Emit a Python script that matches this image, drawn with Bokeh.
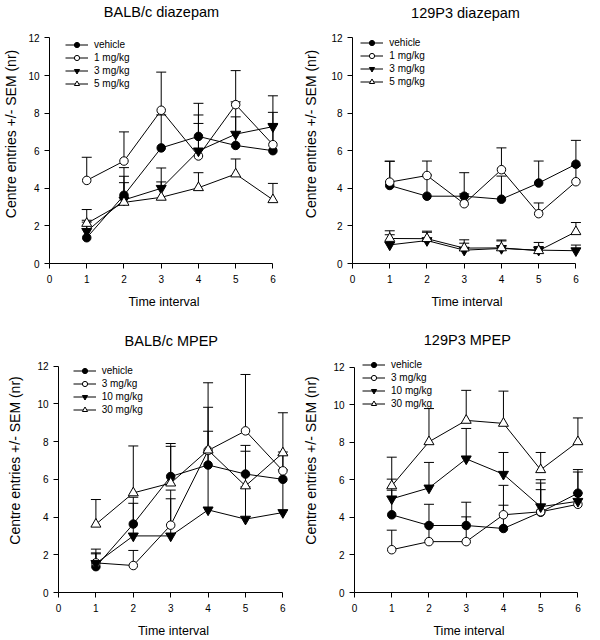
from bokeh.plotting import figure
from bokeh.models import (Legend, LegendItem, Whisker, ColumnDataSource, Range1d,
                          FixedTicker, TeeHead, Label)
from bokeh.layouts import column, row
from bokeh.embed import file_html
from bokeh.resources import INLINE

# ---------------- data ----------------
intervals = [1, 2, 3, 4, 5, 6]
x_ticks = [0, 1, 2, 3, 4, 5, 6]
y_ticks = [0, 2, 4, 6, 8, 10, 12]
x_label = "Time interval"
y_label = "Centre entries +/- SEM (nr)"

# BALB/c diazepam
balb_dz_title = "BALB/c diazepam"
balb_dz_labels = ["vehicle", "1 mg/kg", "3 mg/kg", "5 mg/kg"]
balb_dz_vehicle = [1.37, 3.63, 6.15, 6.76, 6.28, 6.0]
balb_dz_vehicle_top = [2.3, 5.1, 7.9, 8.52, 7.8, 7.45]
balb_dz_d1 = [4.42, 5.45, 8.15, 5.72, 8.45, 6.32]
balb_dz_d1_top = [5.65, 7.0, 10.18, 7.9, 10.26, 8.04]
balb_dz_d3 = [1.71, 3.38, 4.0, 5.99, 6.88, 7.28]
balb_dz_d3_top = [2.2, 4.64, 5.08, 7.45, 8.6, 8.92]
balb_dz_d5 = [2.13, 3.25, 3.52, 4.03, 4.76, 3.39]
balb_dz_d5_top = [2.87, 4.3, 4.34, 4.83, 5.56, 4.26]

# 129P3 diazepam
p129_dz_title = "129P3 diazepam"
p129_dz_labels = ["vehicle", "1 mg/kg", "3 mg/kg", "5 mg/kg"]
p129_dz_vehicle = [4.15, 3.58, 3.58, 3.42, 4.28, 5.28]
p129_dz_vehicle_top = [5.44, 4.7, 4.83, 4.65, 5.45, 6.55]
p129_dz_d1 = [4.33, 4.68, 3.18, 4.99, 2.65, 4.35]
p129_dz_d1_top = [5.44, 5.45, 3.7, 6.15, 3.22, 5.2]
p129_dz_d3 = [0.99, 1.22, 0.71, 0.8, 0.71, 0.68]
p129_dz_d3_top = [1.53, 1.66, 1.08, 1.2, 0.9, 0.98]
p129_dz_d5 = [1.33, 1.32, 0.82, 0.83, 0.68, 1.69]
p129_dz_d5_top = [1.74, 1.72, 1.26, 1.25, 1.12, 2.18]

# BALB/c MPEP
balb_mp_title = "BALB/c MPEP"
balb_mp_labels = ["vehicle", "3 mg/kg", "10 mg/kg", "30 mg/kg"]
balb_mp_vehicle = [1.37, 3.63, 6.15, 6.76, 6.28, 6.0]
balb_mp_vehicle_top = [2.3, 5.05, 7.9, 8.55, 7.8, 7.45]
balb_mp_d3 = [1.57, 1.43, 3.57, 7.53, 8.57, 6.45]
balb_mp_d3_top = [2.1, 2.23, 5.43, 9.82, 11.56, 7.3]
balb_mp_d10 = [1.54, 3.0, 3.0, 4.38, 3.89, 4.24]
balb_mp_d10_top = [2.05, 4.73, 4.97, 7.4, 5.6, 6.5]
balb_mp_d30 = [3.62, 5.28, 5.8, 7.55, 5.65, 7.4]
balb_mp_d30_top = [4.93, 7.77, 7.75, 11.12, 7.49, 9.53]

# 129P3 MPEP
p129_mp_title = "129P3 MPEP"
p129_mp_labels = ["vehicle", "3 mg/kg", "10 mg/kg", "30 mg/kg"]
p129_mp_vehicle = [4.14, 3.57, 3.57, 3.41, 4.28, 5.29]
p129_mp_vehicle_top = [5.45, 4.7, 4.81, 4.65, 5.48, 6.55]
p129_mp_d3 = [2.28, 2.71, 2.71, 4.14, 4.3, 4.7]
p129_mp_d3_top = [3.32, 3.65, 4.03, 5.71, 5.83, 5.3]
p129_mp_d10 = [4.99, 5.57, 7.12, 6.3, 4.57, 4.86]
p129_mp_d10_top = [6.04, 6.93, 8.74, 7.46, 6.01, 6.42]
p129_mp_d30 = [5.68, 8.03, 9.17, 9.01, 6.54, 8.03]
p129_mp_d30_top = [7.21, 9.8, 10.77, 10.73, 7.46, 9.3]

# ---------------- styling ----------------
FONT = "Liberation Sans"
MARKERS = [("circle", "black", 8.5), ("circle", "white", 8.5),
           ("inverted_triangle", "black", 10), ("triangle", "white", 10)]
W, H = 300, 320


def make_panel(title, labels, series, tops, lay):
    L, T, bottom = lay["L"], lay["T"], lay["bottom"]
    xunit, yunit = lay["xunit"], lay["yunit"]
    xend = 6.15
    fw = round(xend * xunit)
    fh = bottom - T
    yend = fh / yunit
    p = figure(width=W, height=H, output_backend="svg", toolbar_location=None,
               title=None,
               x_range=Range1d(0, xend), y_range=Range1d(0, yend),
               min_border_left=L, min_border_top=T,
               min_border_right=W - L - fw, min_border_bottom=H - bottom)
    p.outline_line_color = None
    p.xgrid.visible = False
    p.ygrid.visible = False
    p.background_fill_color = "white"
    p.border_fill_color = "white"

    for ax in (p.xaxis[0], p.yaxis[0]):
        ax.axis_line_color = "black"
        ax.major_tick_line_color = "black"
        ax.major_tick_out = 5
        ax.major_tick_in = 0
        ax.minor_tick_line_color = None
        ax.major_label_text_font = FONT
        ax.major_label_text_font_size = "10px"
        ax.major_label_text_color = "black"
        ax.axis_label_text_font = FONT
        ax.axis_label_text_font_style = "normal"
        ax.axis_label_text_color = "black"
    p.xaxis.ticker = FixedTicker(ticks=x_ticks)
    p.yaxis.ticker = FixedTicker(ticks=y_ticks)
    p.xaxis.bounds = (0, 6)
    p.yaxis.bounds = (0, 12)
    p.xaxis.axis_label = x_label
    p.yaxis.axis_label = y_label
    p.xaxis.axis_label_text_font_size = "12.5px"
    p.yaxis.axis_label_text_font_size = "14px"
    p.xaxis.major_label_standoff = 6
    p.yaxis.major_label_standoff = 5
    p.xaxis.axis_label_standoff = 9
    p.yaxis.axis_label_standoff = lay["ystand"]

    p.add_layout(Label(x=lay["tx"], y=bottom - lay["ty"] - T * 0, x_units="screen",
                       y_units="screen", text=title, text_font=FONT,
                       text_font_size="14.5px", text_color="black",
                       text_align="center", text_baseline="middle"))

    sources = [ColumnDataSource(dict(x=intervals, y=vals, top=tp))
               for vals, tp in zip(series, tops)]

    line_rs = [p.line("x", "y", source=src, line_color="black", line_width=1)
               for src in sources]
    for src in sources:
        p.add_layout(Whisker(base="x", lower="y", upper="top", source=src,
                             dimension="height", line_color="black", line_width=1,
                             upper_head=TeeHead(size=10, line_color="black", line_width=1),
                             lower_head=None))
    scat_rs = [p.scatter("x", "y", source=src, marker=mk, size=sz, fill_color=fill,
                         line_color="black", line_width=1)
               for src, (mk, fill, sz) in zip(sources, MARKERS)]

    items = [LegendItem(label=lab, renderers=[lr, sr])
             for lab, lr, sr in zip(labels, line_rs, scat_rs)]
    gh = 13
    leg_h = 4 * gh
    leg_top = lay["lcy"] - gh / 2          # from figure top
    leg = Legend(items=items,
                 location=(lay["lx"] - L, bottom - leg_top - leg_h),
                 glyph_width=23, glyph_height=gh, label_height=gh, spacing=0,
                 padding=0, margin=0, label_standoff=6,
                 label_text_font=FONT, label_text_font_size="10px",
                 label_text_color="black",
                 border_line_color=None, background_fill_alpha=0)
    p.add_layout(leg)
    return p


# layout positions (pixels within each 300x320 panel)
lay1 = dict(L=48, T=4, bottom=263, xunit=37.4, yunit=18.8, ystand=6,
            tx=160 - 48, ty=11, lx=64, lcy=44.3)
lay2 = dict(L=50, T=4, bottom=263, xunit=37.6, yunit=18.8, ystand=9,
            tx=163 - 50, ty=12, lx=58.3, lcy=42.3)
lay3 = dict(L=58, T=8, bottom=272, xunit=37.4, yunit=18.86, ystand=11,
            tx=170.8 - 58, ty=20, lx=72.7, lcy=50.7)
lay4 = dict(L=53, T=8, bottom=273, xunit=37.45, yunit=18.84, ystand=11,
            tx=165.8 - 53, ty=20.7, lx=61, lcy=45)

p1 = make_panel(balb_dz_title, balb_dz_labels,
                [balb_dz_vehicle, balb_dz_d1, balb_dz_d3, balb_dz_d5],
                [balb_dz_vehicle_top, balb_dz_d1_top, balb_dz_d3_top, balb_dz_d5_top], lay1)
p2 = make_panel(p129_dz_title, p129_dz_labels,
                [p129_dz_vehicle, p129_dz_d1, p129_dz_d3, p129_dz_d5],
                [p129_dz_vehicle_top, p129_dz_d1_top, p129_dz_d3_top, p129_dz_d5_top], lay2)
p3 = make_panel(balb_mp_title, balb_mp_labels,
                [balb_mp_vehicle, balb_mp_d3, balb_mp_d10, balb_mp_d30],
                [balb_mp_vehicle_top, balb_mp_d3_top, balb_mp_d10_top, balb_mp_d30_top], lay3)
p4 = make_panel(p129_mp_title, p129_mp_labels,
                [p129_mp_vehicle, p129_mp_d3, p129_mp_d10, p129_mp_d30],
                [p129_mp_vehicle_top, p129_mp_d3_top, p129_mp_d10_top, p129_mp_d30_top], lay4)

layout = column(row(p1, p2), row(p3, p4))
open("out.html", "w").write(file_html(layout, INLINE))
